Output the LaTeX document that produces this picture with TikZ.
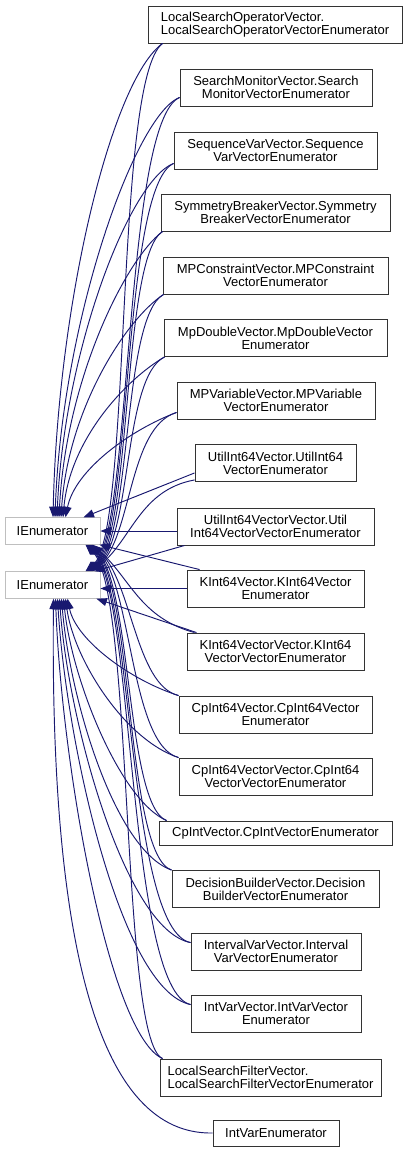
\documentclass[tikz,border=0pt]{standalone}
\usepackage{fontspec}
\setmainfont{Liberation Sans}
\usetikzlibrary{arrows.meta}
\definecolor{edgec}{HTML}{191970}
\definecolor{boxc}{HTML}{333333}
\definecolor{iec}{HTML}{BFBFBF}
\begin{document}
\begin{tikzpicture}[x=1pt,y=-1pt,
  cls/.style={draw=boxc, line width=0.9pt, fill=white, inner sep=0pt, align=center,
    minimum height=37pt, font=\fontsize{13}{13.3}\selectfont},
  ie/.style={cls, draw=iec, minimum height=26.5pt, minimum width=95pt},
  edge/.style={draw=edgec, line width=0.95pt, -{Triangle[length=10.5pt,width=8pt]}}]
\useasboundingbox (0,0) rectangle (409,1151);
% class nodes
\node[cls, minimum width=254pt, align=left] (LSO) at (275,24.5) {LocalSearchOperatorVector.\\LocalSearchOperatorVectorEnumerator};
\node[cls, minimum width=192pt] (SM) at (276,87.5) {SearchMonitorVector.Search\\MonitorVectorEnumerator};
\node[cls, minimum width=203pt] (SV) at (275.5,150.5) {SequenceVarVector.Sequence\\VarVectorEnumerator};
\node[cls, minimum width=229pt] (SB) at (275.5,212.5) {SymmetryBreakerVector.Symmetry\\BreakerVectorEnumerator};
\node[cls, minimum width=225pt] (MPC) at (275.5,275.5) {MPConstraintVector.MPConstraint\\VectorEnumerator};
\node[cls, minimum width=223pt] (MpD) at (275.5,338) {MpDoubleVector.MpDoubleVector\\Enumerator};
\node[cls, minimum width=198pt] (MPV) at (276,400.5) {MPVariableVector.MPVariable\\VectorEnumerator};
\node[cls, minimum width=161pt] (UI) at (275.5,463) {UtilInt64Vector.UtilInt64\\VectorEnumerator};
\node[cls, minimum width=197pt] (UIV) at (275.5,526.5) {UtilInt64VectorVector.Util\\Int64VectorVectorEnumerator};
\node[cls, minimum width=177pt] (KI) at (275.5,588.5) {KInt64Vector.KInt64Vector\\Enumerator};
\node[cls, minimum width=177pt] (KIV) at (275.5,651.5) {KInt64VectorVector.KInt64\\VectorVectorEnumerator};
\node[cls, minimum width=193pt] (CpI64) at (275.5,714.5) {CpInt64Vector.CpInt64Vector\\Enumerator};
\node[cls, minimum width=193pt] (CpI64V) at (275.5,776.5) {CpInt64VectorVector.CpInt64\\VectorVectorEnumerator};
\node[cls, minimum width=233pt, minimum height=24pt] (CpIV) at (275.5,833) {CpIntVector.CpIntVectorEnumerator};
\node[cls, minimum width=207pt] (DB) at (275.5,889) {DecisionBuilderVector.Decision\\BuilderVectorEnumerator};
\node[cls, minimum width=170pt] (IVV) at (276,951.5) {IntervalVarVector.Interval\\VarVectorEnumerator};
\node[cls, minimum width=170pt] (IVec) at (276,1013.5) {IntVarVector.IntVarVector\\Enumerator};
\node[cls, minimum width=221pt, align=left] (LSF) at (270.5,1077.5) {LocalSearchFilterVector.\\LocalSearchFilterVectorEnumerator};
\node[cls, minimum width=126pt, minimum height=26pt] (IVE) at (276,1133) {IntVarEnumerator};
% base nodes
\node[ie] (IEu) at (52.5,531) {IEnumerator};
\node[ie] (IEl) at (52.5,585) {IEnumerator};
% upper group -> upper IEnumerator
\draw[edge] ([xshift=15pt]LSO.south west) .. controls (112,80) and (58,300) .. ([xshift=0.5pt]IEu.north);
\draw[edge] ([yshift=9pt]SM.south west) .. controls (135,115) and (62,320) .. ([xshift=2.5pt]IEu.north);
\draw[edge] ([yshift=6pt]SV.south west) .. controls (130,180) and (64,350) .. ([xshift=4.5pt]IEu.north);
\draw[edge] ([xshift=2pt]SB.south west) .. controls (125,260) and (66,380) .. ([xshift=6.5pt]IEu.north);
\draw[edge] ([xshift=1pt]MPC.south west) .. controls (125,320) and (68,410) .. ([xshift=8.5pt]IEu.north);
\draw[edge] ([xshift=1pt]MpD.south west) .. controls (125,380) and (70,440) .. ([xshift=10.5pt]IEu.north);
\draw[edge] ([yshift=7pt]MPV.south west) .. controls (130,430) and (75,470) .. ([xshift=13pt]IEu.north);
\draw[edge] ([yshift=9pt]UI.south west) -- ([xshift=31pt]IEu.north);
\draw[edge] ([yshift=-4.5pt]UIV.west) -- (IEu.east);
\draw[edge] ([xshift=13pt]KI.north west) -- ([xshift=-1pt]IEu.south east);
% upper group -> lower IEnumerator
\draw[edge] ([xshift=15pt]LSO.south west) .. controls (114,80) and (132,532) .. ([xshift=33pt]IEl.north);
\draw[edge] ([yshift=9pt]SM.south west) .. controls (124,122) and (132,533) .. ([xshift=34pt]IEl.north);
\draw[edge] ([yshift=6pt]SV.south west) .. controls (122,187) and (132,534) .. ([xshift=35pt]IEl.north);
\draw[edge] ([xshift=2pt]SB.south west) .. controls (122,257) and (132,535) .. ([xshift=36pt]IEl.north);
\draw[edge] ([xshift=1pt]MPC.south west) .. controls (122,317) and (132,536) .. ([xshift=37pt]IEl.north);
\draw[edge] ([xshift=1pt]MpD.south west) .. controls (123,377) and (132,537) .. ([xshift=38pt]IEl.north);
\draw[edge] ([yshift=7pt]MPV.south west) .. controls (128,427) and (132,538) .. ([xshift=39pt]IEl.north);
\draw[edge] ([yshift=2pt]UI.south west) .. controls (140,490) and (132,539) .. ([xshift=40pt]IEl.north);
\draw[edge] ([xshift=8pt]UIV.south west) -- ([xshift=42pt]IEl.north);
\draw[edge] (KI.west) -- ([yshift=-3.5pt]IEl.east);
% lower group -> lower IEnumerator
\draw[edge] ([xshift=10pt]KIV.north west) -- ([xshift=-4pt]IEl.south east);
\draw[edge] (CpI64.north west) .. controls (130,680) and (76,640) .. ([xshift=15pt]IEl.south);
\draw[edge] (CpI64V.north west) .. controls (125,740) and (74,660) .. ([xshift=13pt]IEl.south);
\draw[edge] ([xshift=8pt]CpIV.north west) .. controls (120,800) and (72,680) .. ([xshift=11pt]IEl.south);
\draw[edge] (DB.north west) .. controls (115,850) and (70,700) .. ([xshift=9pt]IEl.south);
\draw[edge] ([yshift=-10pt]IVV.north west) .. controls (125,930) and (68,720) .. ([xshift=7pt]IEl.south);
\draw[edge] ([yshift=-10pt]IVec.north west) .. controls (120,990) and (66,740) .. ([xshift=5pt]IEl.south);
\draw[edge] ([xshift=3pt]LSF.north west) .. controls (110,1035) and (62,770) .. ([xshift=3pt]IEl.south);
\draw[edge] (IVE.west) .. controls (100,1135) and (50,950) .. ([xshift=1pt]IEl.south);
% lower group -> upper IEnumerator
\draw[edge] ([xshift=8pt]KIV.north west) .. controls (140,618) and (130,578) .. ([xshift=40pt]IEu.south);
\draw[edge] (CpI64.north west) .. controls (135,685) and (132,580) .. ([xshift=39pt]IEu.south);
\draw[edge] (CpI64V.north west) .. controls (130,745) and (132,582) .. ([xshift=38pt]IEu.south);
\draw[edge] ([xshift=8pt]CpIV.north west) .. controls (126,805) and (132,584) .. ([xshift=37pt]IEu.south);
\draw[edge] (DB.north west) .. controls (126,855) and (133,586) .. ([xshift=36pt]IEu.south);
\draw[edge] ([yshift=-10pt]IVV.north west) .. controls (128,930) and (133,588) .. ([xshift=35pt]IEu.south);
\draw[edge] ([yshift=-10pt]IVec.north west) .. controls (128,990) and (134,590) .. ([xshift=34pt]IEu.south);
\draw[edge] ([xshift=3pt]LSF.north west) .. controls (120,1040) and (134,592) .. ([xshift=33pt]IEu.south);
\end{tikzpicture}
\end{document}
